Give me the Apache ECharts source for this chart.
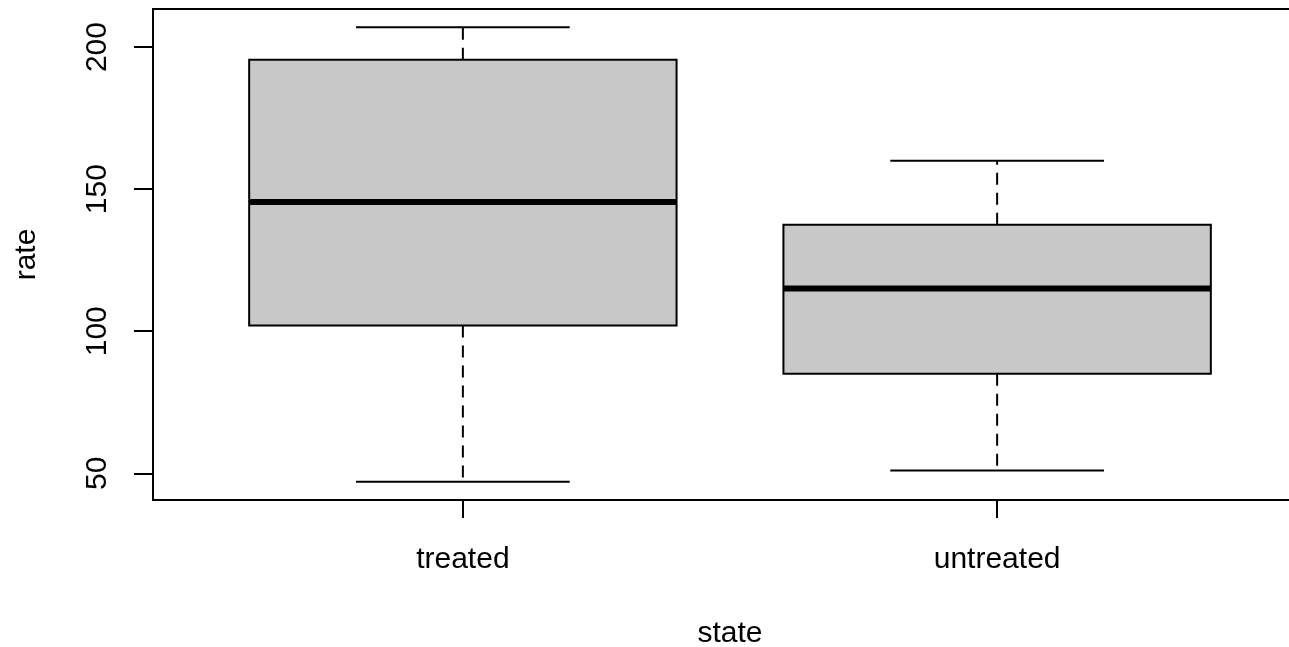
<!DOCTYPE html>
<html>
<head>
<meta charset="utf-8">
<script src="https://cdn.jsdelivr.net/npm/echarts@6/dist/echarts.min.js"></script>
<style>
html,body{margin:0;padding:0;background:#fff;}
#chart{width:1289px;height:647px;}
</style>
</head>
<body>
<div id="chart"></div>
<script>
// Data (Puromycin: rate by state)
const categories = ['treated', 'untreated'];
const positions = [1, 2];
const lowerWhisker = [47, 51];
const lowerHinge = [102, 85];
const medians = [145.5, 115];
const upperHinge = [195.5, 137.5];
const upperWhisker = [207, 160];
const yTicks = [50, 100, 150, 200];

const FONT = "'Liberation Sans', Arial, Helvetica, sans-serif";
const BOX_W = 0.8, CAP_W = 0.4;

const seriesData = categories.map((c, i) => [positions[i], lowerWhisker[i], lowerHinge[i], medians[i], upperHinge[i], upperWhisker[i]]);

function renderItem(params, api) {
  const x = api.value(0);
  const lo = api.value(1), q1 = api.value(2), md = api.value(3), q3 = api.value(4), hi = api.value(5);
  const pL = api.coord([x - BOX_W / 2, q3]);
  const pR = api.coord([x + BOX_W / 2, q1]);
  const cL = api.coord([x - CAP_W / 2, lo])[0];
  const cR = api.coord([x + CAP_W / 2, lo])[0];
  const cx = api.coord([x, md])[0];
  const yLo = api.coord([x, lo])[1], yHi = api.coord([x, hi])[1];
  const yQ1 = api.coord([x, q1])[1], yQ3 = api.coord([x, q3])[1], yMd = api.coord([x, md])[1];
  const lineStyle = { stroke: '#000', lineWidth: 2, fill: null };
  const dashStyle = { stroke: '#000', lineWidth: 2, lineDash: [12, 8], fill: null };
  return {
    type: 'group',
    children: [
      { type: 'line', shape: { x1: cx, y1: yQ1, x2: cx, y2: yLo }, style: dashStyle },
      { type: 'line', shape: { x1: cx, y1: yQ3, x2: cx, y2: yHi }, style: dashStyle },
      { type: 'line', shape: { x1: cL, y1: yLo, x2: cR, y2: yLo }, style: lineStyle },
      { type: 'line', shape: { x1: cL, y1: yHi, x2: cR, y2: yHi }, style: lineStyle },
      { type: 'rect', shape: { x: pL[0], y: yQ3, width: pR[0] - pL[0], height: yQ1 - yQ3 },
        style: { fill: '#C8C8C8', stroke: '#000', lineWidth: 2 } },
      { type: 'line', shape: { x1: pL[0], y1: yMd, x2: pR[0], y2: yMd }, style: { stroke: '#000', lineWidth: 6 } }
    ]
  };
}

const chart = echarts.init(document.getElementById('chart'), null, { renderer: 'canvas' });
chart.setOption({
  animation: false,
  backgroundColor: '#fff',
  grid: { left: 153, top: 9, width: 1154, height: 491, containLabel: false, outerBoundsMode: 'none',
    show: true, borderColor: '#000', borderWidth: 2, backgroundColor: 'transparent' },
  xAxis: {
    type: 'value', min: 0.42, max: 2.58,
    name: 'state', nameLocation: 'middle', nameGap: 119,
    nameTextStyle: { fontFamily: FONT, fontSize: 30, color: '#000' },
    axisLine: { show: true, lineStyle: { color: '#000', width: 2 } },
    axisTick: { show: true, length: 18, lineStyle: { color: '#000', width: 2 }, customValues: positions },
    axisLabel: { customValues: positions, margin: 45, fontFamily: FONT, fontSize: 30, color: '#000',
      formatter: v => categories[positions.indexOf(Math.round(v))] || '' },
    splitLine: { show: false }
  },
  yAxis: {
    type: 'value', min: 40.6, max: 213.4,
    name: 'rate', nameLocation: 'middle', nameRotate: 90, nameGap: 111,
    nameTextStyle: { fontFamily: FONT, fontSize: 30, color: '#000' },
    axisLine: { show: true, lineStyle: { color: '#000', width: 2 } },
    axisTick: { show: true, length: 19, lineStyle: { color: '#000', width: 2 }, customValues: yTicks },
    axisLabel: { customValues: yTicks, rotate: 90, margin: 40, fontFamily: FONT, fontSize: 30, color: '#000' },
    splitLine: { show: false }
  },
  series: [{
    type: 'custom',
    renderItem: renderItem,
    data: seriesData,
    encode: { x: 0, y: [1, 2, 3, 4, 5] },
    clip: true
  }]
});
</script>
</body>
</html>
